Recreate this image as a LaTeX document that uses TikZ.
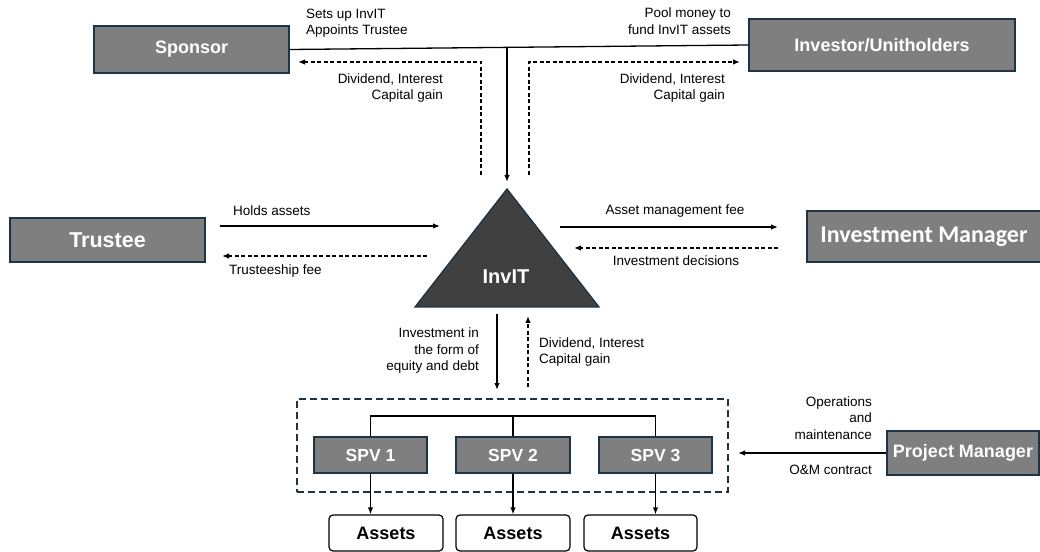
\documentclass[tikz,border=0pt]{standalone}
\usepackage{fontspec}
\setmainfont{Liberation Sans}
\newfontfamily\carlitofont{Carlito}
\usetikzlibrary{arrows.meta}
\definecolor{boxgray}{HTML}{7F7F7F}
\definecolor{boxedge}{HTML}{1E3344}
\definecolor{tridark}{HTML}{404040}
\newcommand\lblfont{\fontsize{13.5bp}{16.5bp}\selectfont}
\tikzset{
  gbox/.style={draw=boxedge, line width=1.3bp, fill=boxgray, text=white,
    font=\bfseries\fontsize{18bp}{21bp}\selectfont, inner sep=0pt, minimum height=44bp},
  abox/.style={draw=black, line width=1.2bp, fill=white, rounded corners=4bp,
    font=\bfseries\fontsize{18bp}{21bp}\selectfont, inner sep=0pt,
    minimum width=114bp, minimum height=36bp},
  lbl/.style={inner sep=0pt, font=\lblfont},
  arr/.style={line width=1.3bp, -{Latex[length=7bp,width=5.5bp]}},
  darr/.style={line width=1.3bp, dash pattern=on 4bp off 2.5bp, -{Latex[length=7bp,width=5.5bp]}},
  spvline/.style={line width=1.3bp},
}
\begin{document}
\begin{tikzpicture}[x=1bp,y=-1bp]
\useasboundingbox (0,0) rectangle (1040,552);
% main boxes
\node[gbox, minimum width=195bp, minimum height=47bp] (sponsor) at (191.5,49.5) {Sponsor};
\node[gbox, minimum width=266bp, minimum height=52bp] (investor) at (882,45) {Investor/Unitholders};
\node[gbox, minimum width=195bp, font=\bfseries\fontsize{21.5bp}{24bp}\selectfont] (trustee) at (107.5,240) {Trustee};
\node[gbox, minimum width=234bp, minimum height=51bp, font=\carlitofont\bfseries\fontsize{24bp}{27bp}\selectfont] (im) at (924,236.5) {Investment Manager};
\node[gbox, minimum width=152bp] (pm) at (963,453) {Project Manager};
% triangle
\coordinate (tl) at (415,307);
\coordinate (tr) at (599,307);
\coordinate (apex) at (507,189);
\fill[tridark, draw=boxedge, line width=1.3bp, line join=miter] (tl) -- (apex) -- (tr) -- cycle;
\node[text=white, font=\bfseries\fontsize{20bp}{23bp}\selectfont, inner sep=0pt] (invit) at (506,277) {InvIT};
% SPV group
\node[draw=boxedge, line width=1.5bp, dash pattern=on 7bp off 4bp, minimum width=431bp, minimum height=93bp, inner sep=0pt] (grp) at (512.5,445.5) {};
\node[gbox, minimum width=113bp, minimum height=36bp, font=\bfseries\fontsize{17.5bp}{20bp}\selectfont] (spv1) at (370.5,455) {SPV 1};
\node[gbox, minimum width=114bp, minimum height=36bp, font=\bfseries\fontsize{17.5bp}{20bp}\selectfont] (spv2) at (513,455) {SPV 2};
\node[gbox, minimum width=113bp, minimum height=36bp, font=\bfseries\fontsize{17.5bp}{20bp}\selectfont] (spv3) at (655.5,455) {SPV 3};
\node[abox] (a1) at (386,533) {Assets};
\node[abox] (a2) at (513,533) {Assets};
\node[abox, minimum width=113bp] (a3) at (640.5,533) {Assets};
% tree
\coordinate (tree) at (513,416);
\draw[spvline] (spv1.north) -- (spv1.north |- tree) -- (spv3.north |- tree) -- (spv3.north);
\draw[spvline] (tree) -- (spv2.north);
\draw[arr] (spv1.south) -- (spv1.south |- a1.north);
\draw[arr] (spv2.south) -- (spv2.south |- a2.north);
\draw[arr] (spv3.south) -- (spv3.south |- a3.north);
% top connectors
\draw[line width=1.3bp] (sponsor.east) -- (investor.west);
\coordinate (tj) at (507,48);
\coordinate (tjend) at (507,182);
\draw[arr] (tj) -- (tjend);
\coordinate (dl) at (481,175);
\coordinate (dr) at (529,175);
\draw[darr] (dl) -- (481,62) -- (298,62);
\draw[darr] (dr) -- (529,62) -- (740,62);
% trustee connectors
\coordinate (ha1) at (220,226);
\coordinate (ha2) at (440,226);
\draw[arr] (ha1) -- (ha2);
\coordinate (tf1) at (427,256);
\coordinate (tf2) at (222,256);
\draw[darr] (tf1) -- (tf2);
% investment manager connectors
\coordinate (am1) at (560,227);
\coordinate (am2) at (778,227);
\draw[arr] (am1) -- (am2);
\coordinate (id1) at (778,248);
\coordinate (id2) at (574,248);
\draw[darr] (id1) -- (id2);
% bottom connectors
\coordinate (iv1) at (497,314);
\coordinate (iv2) at (497,390);
\draw[arr] (iv1) -- (iv2);
\coordinate (dv1) at (528,387);
\coordinate (dv2) at (528,316);
\draw[darr] (dv1) -- (dv2);
% project manager
\coordinate (pmend) at (738,453);
\draw[arr] (pm.west) -- (pmend);
% labels
\node[lbl, anchor=west, align=left] (l1) at (306,23) {Sets up InvIT\\Appoints Trustee};
\node[lbl, anchor=east, align=right] (l2) at (731,21) {Pool money to\\fund InvIT assets};
\node[lbl, anchor=east, align=right] (l3) at (443,88) {Dividend, Interest\\Capital gain};
\node[lbl, anchor=east, align=right] (l4) at (725,88) {Dividend, Interest\\Capital gain};
\node[lbl, anchor=west] (l5) at (233,211) {Holds assets};
\node[lbl, anchor=west] (l6) at (229,271) {Trusteeship fee};
\node[lbl] (l7) at (675,211) {Asset management fee};
\node[lbl] (l8) at (676,261) {Investment decisions};
\node[lbl, anchor=east, align=right] (l9) at (479,351) {Investment in\\the form of\\equity and debt};
\node[lbl, anchor=west, align=left] (l10) at (539,352) {Dividend, Interest\\Capital gain};
\node[lbl, anchor=east, align=right] (l11) at (872,418) {Operations\\and\\maintenance};
\node[lbl, anchor=east] (l12) at (872,470) {O\&M contract};
\end{tikzpicture}
\end{document}
